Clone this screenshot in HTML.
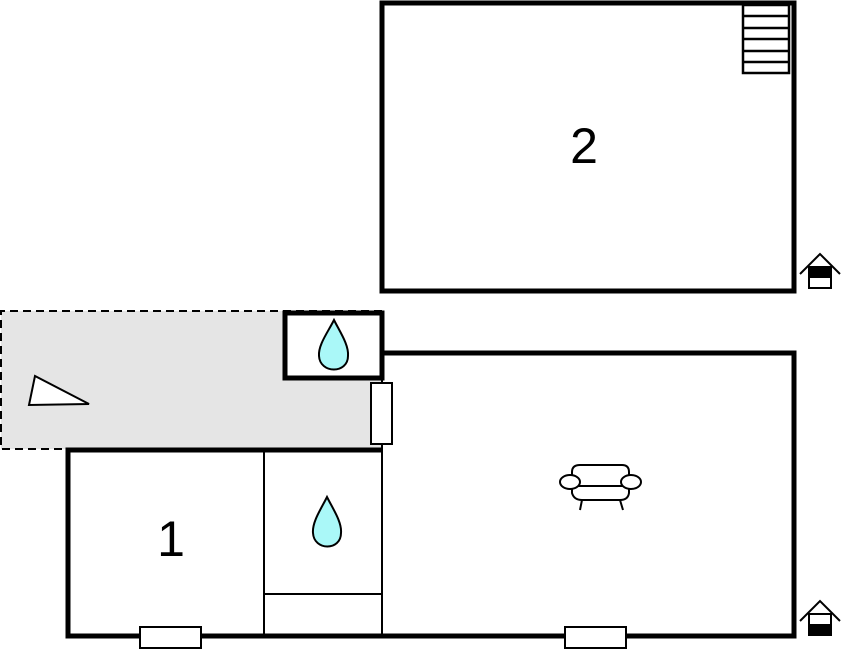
<!DOCTYPE html>
<html><head><style>html,body{margin:0;padding:0;background:#fff}</style></head>
<body>
<svg width="844" height="652" viewBox="0 0 844 652" xmlns="http://www.w3.org/2000/svg" style="display:block">
<rect x="1" y="311" width="381" height="138" fill="#e5e5e5"/>
<path d="M382 311 H1 V449 H68" fill="none" stroke="#000" stroke-width="2" stroke-dasharray="8,5"/>
<polygon points="35,376 29,405 89,404" fill="#fff" stroke="#000" stroke-width="2"/>
<rect x="382" y="3" width="412" height="288" fill="#fff" stroke="#000" stroke-width="5"/>
<g fill="none" stroke="#000" stroke-width="2.5">
<rect x="743" y="5" width="46" height="68"/>
<line x1="743" y1="16" x2="789" y2="16"/><line x1="743" y1="28" x2="789" y2="28"/>
<line x1="743" y1="39" x2="789" y2="39"/><line x1="743" y1="51" x2="789" y2="51"/>
<line x1="743" y1="62" x2="789" y2="62"/>
</g>
<text x="584" y="163" font-family="Liberation Sans, sans-serif" font-size="50" text-anchor="middle">2</text>
<rect x="68" y="450" width="314" height="186" fill="#fff"/>
<rect x="382" y="353" width="412" height="283" fill="#fff"/>
<path d="M382 353 H794 V636 H68 V450 H382" fill="none" stroke="#000" stroke-width="5"/>
<g stroke="#000" stroke-width="2" fill="none">
<line x1="264" y1="450" x2="264" y2="636"/>
<line x1="382" y1="378" x2="382" y2="636"/>
<line x1="264" y1="594" x2="382" y2="594"/>
</g>
<rect x="285" y="313" width="97" height="65" fill="#fff" stroke="#000" stroke-width="5"/>
<rect x="371" y="383" width="21" height="61" fill="#fff" stroke="#000" stroke-width="2"/>
<rect x="140" y="627" width="61" height="21" fill="#fff" stroke="#000" stroke-width="2"/>
<rect x="565" y="627" width="61" height="21" fill="#fff" stroke="#000" stroke-width="2"/>
<path d="M334 320 C328 332 318 345 319 356 C320 374 348 374 348 356 C349 345 340 332 334 320 Z" fill="#aaf8f8" stroke="#000" stroke-width="2"/>
<path d="M327 497 C321 509 312 522 313 533 C314 551 341 551 341 533 C342 522 333 509 327 497 Z" fill="#aaf8f8" stroke="#000" stroke-width="2"/>
<text x="171" y="556" font-family="Liberation Sans, sans-serif" font-size="50" text-anchor="middle">1</text>
<g fill="#fff" stroke="#000" stroke-width="2">
<path d="M572 487 V472 Q572 465 580 465 H622 Q629 465 629 472 V487"/>
<path d="M572 482 V493 Q574 500 582 500 H620 Q628 500 629 493 V482"/>
<line x1="576" y1="486" x2="626" y2="486"/>
<ellipse cx="570" cy="482" rx="10" ry="7"/>
<ellipse cx="631" cy="482" rx="10" ry="7"/>
<line x1="582" y1="500" x2="580" y2="510"/><line x1="620" y1="500" x2="623" y2="510"/>
</g>
<g stroke="#000" stroke-width="2" fill="none">
<polyline points="800,274 820,254 840,274"/>
<rect x="809" y="267" width="22" height="21" fill="#fff"/>
<rect x="809" y="267" width="22" height="10" fill="#000"/>
<polyline points="800,621 820,601 840,621"/>
<rect x="809" y="614" width="22" height="21" fill="#fff"/>
<rect x="809" y="625" width="22" height="10" fill="#000"/>
</g>
</svg>
</body></html>
